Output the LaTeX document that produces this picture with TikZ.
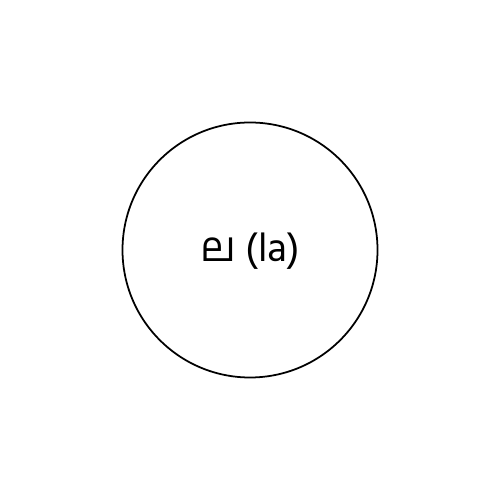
\documentclass[tikz,border=0pt]{standalone}
\usepackage{fontspec}
\newfontfamily\mlfont[Script=Malayalam]{Hind Kochi}
\begin{document}
\begin{tikzpicture}
\useasboundingbox (0,0) rectangle (10,10);
\tikzset{ring/.style={circle, draw=black, line width=1pt, minimum size=5.1cm, inner sep=0pt}}
\node[ring] (c) at (5,5) {};
\node (t) at (5,4.97) {\mlfont\fontsize{23}{27}\selectfont ല (la)};
\end{tikzpicture}
\end{document}
